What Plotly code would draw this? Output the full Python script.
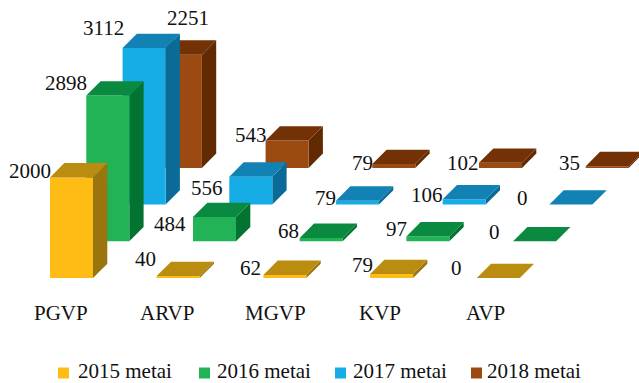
import plotly.graph_objects as go

categories = ["PGVP", "ARVP", "MGVP", "KVP", "AVP"]
series_names = ["2015 metai", "2016 metai", "2017 metai", "2018 metai"]
values_2015 = [2000, 40, 62, 79, 0]
values_2016 = [2898, 484, 68, 97, 0]
values_2017 = [3112, 556, 79, 106, 0]
values_2018 = [2251, 543, 79, 102, 35]
all_values = [values_2015, values_2016, values_2017, values_2018]

W, H = 639, 383
X0_PX, CAT_PX, BAR_PX = 50.0, 106.7, 43.0
BASE_PX, UNIT_PX = 278.0, 0.0503
SER_DX, SER_DY = 36.3, 36.7
DEPTH_PX = 14.3
FONT_SIZE = 21

front = ["#FFBC15", "#22B357", "#16ADE6", "#9C4A12"]
top = ["#BA8C0F", "#0A8A40", "#1282B5", "#733206"]
side = ["#9A740C", "#037331", "#0A6B98", "#622A03"]

# label offset from the bar's front-top-left corner, in px (right, down)
label_offsets = [
    [(-20, -6.4), (-11.7, -16.5), (-12.4, -6.9), (-8, -9), (-20, -10)],
    [(-20, -12.5), (-23, 7), (-11, -7), (-10, -7), (-19, -9)],
    [(-19, -20), (-22, 11), (-11, -3), (-16, -4), (-27, -7)],
    [(29, -37), (-15, -6), (-10, -1), (-16, 0), (-16, -3)],
]
cat_label_px = [(61, 313), (167, 313), (275, 313), (380, 313), (485, 313)]
legend_swatch_px = [58, 199, 335, 471]
legend_text_px = [76, 215, 351, 485]
LEGEND_SWATCH_Y = 373
LEGEND_TEXT_Y = 371

xr = [-X0_PX / CAT_PX, (W - X0_PX) / CAT_PX]
yr = [(BASE_PX - H) / UNIT_PX, BASE_PX / UNIT_PX]
dx_u = 1 / CAT_PX
dy_u = 1 / UNIT_PX

fig = go.Figure()


def poly(xs, ys, color, name):
    fig.add_trace(go.Scatter(
        x=xs + xs[:1], y=ys + ys[:1], mode="lines", fill="toself",
        fillcolor=color, line=dict(width=0, color=color), hoverinfo="skip",
        showlegend=False, name=name))


annotations = []
for s in range(3, -1, -1):
    ox = s * SER_DX * dx_u
    oy = s * SER_DY * dy_u
    for c, v in enumerate(all_values[s]):
        l = c + ox
        r = l + BAR_PX * dx_u
        b = oy
        t = oy + v
        d_x = DEPTH_PX * dx_u
        d_y = DEPTH_PX * dy_u
        if v > 0:
            poly([r, r + d_x, r + d_x, r], [b, b + d_y, t + d_y, t], side[s], series_names[s])
            poly([l, r, r, l], [b, b, t, t], front[s], series_names[s])
        poly([l, r, r + d_x, l + d_x], [t, t, t + d_y, t + d_y], top[s], series_names[s])
        off = label_offsets[s][c]
        annotations.append(dict(
            x=l, y=t, xref="x", yref="y", text=str(v), showarrow=False,
            xanchor="center", yanchor="middle", xshift=off[0], yshift=-off[1],
            font=dict(family="Liberation Serif", size=FONT_SIZE, color="#111111")))

for name, (px, py) in zip(categories, cat_label_px):
    annotations.append(dict(
        x=px / W, y=1 - py / H, xref="paper", yref="paper", text=name, showarrow=False,
        xanchor="center", yanchor="middle",
        font=dict(family="Liberation Serif", size=FONT_SIZE, color="#111111")))

shapes = []
for i, name in enumerate(series_names):
    sx = legend_swatch_px[i]
    shapes.append(dict(
        type="rect", xref="paper", yref="paper", x0=sx / W, x1=(sx + 11) / W,
        y0=1 - (LEGEND_SWATCH_Y + 5.5) / H, y1=1 - (LEGEND_SWATCH_Y - 5.5) / H,
        fillcolor=front[i], line=dict(width=0)))
    annotations.append(dict(
        x=legend_text_px[i] / W, y=1 - LEGEND_TEXT_Y / H, xref="paper", yref="paper",
        text=name, showarrow=False, xanchor="left", yanchor="middle",
        font=dict(family="Liberation Serif", size=FONT_SIZE, color="#111111")))

fig.update_layout(
    width=W, height=H, margin=dict(l=0, r=0, t=0, b=0),
    paper_bgcolor="white", plot_bgcolor="white", showlegend=False,
    annotations=annotations, shapes=shapes,
    xaxis=dict(range=xr, visible=False, fixedrange=True),
    yaxis=dict(range=yr, visible=False, fixedrange=True),
)
fig.write_html("out.html", config=dict(displayModeBar=False),
               post_script="document.body.style.margin='0';document.body.style.overflow='hidden';")
